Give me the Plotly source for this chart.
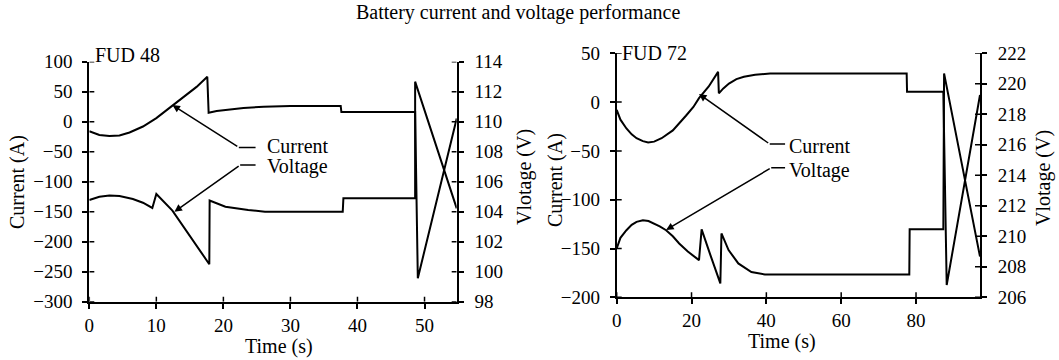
import plotly.graph_objects as go

W, H = 1059, 360
ML, MR, MT, MB = 89, 79, 50, 55
PW = W - ML - MR
PH = H - MT - MB

FONT = "Liberation Serif, Times New Roman, serif"
FS = 20

# ---------------- data: FUD 48 ----------------
t48_cur = [0, 1.5, 3, 4.5, 6, 8, 10, 12.4, 14, 16, 17.6, 17.8, 19, 21, 23, 26, 30, 37.5, 37.6, 48.6, 49.0, 54.8]
i48 = [-16, -22, -24, -23, -18, -8, 6, 27, 41, 58, 75, 15, 18, 21, 23, 25, 26, 26, 16, 16, -261, 5.5]
t48_volt = [0, 1.5, 3, 4.5, 6.5, 8, 9.4, 10, 12.4, 14.4, 16.4, 17.9, 17.95, 19, 20.3, 23.7, 26.2, 37.8, 37.9, 48.6, 48.6, 54.8]
v48 = [104.78, 105.0, 105.08, 105.04, 104.85, 104.6, 104.25, 105.18, 104.07, 102.8, 101.45, 100.5,
       104.75, 104.55, 104.33, 104.12, 104.0, 104.0, 104.9, 104.9, 112.67, 104.22]

# ---------------- data: FUD 72 ----------------
t72_cur = [0, 1, 2.6, 4, 5.3, 7, 8.4, 10, 12, 15, 18.5, 20.5, 22, 24.6, 27.1, 27.3, 28.5, 30, 32, 34, 37, 41,
           77.5, 77.6, 87.3, 88.2, 97.1]
i72 = [-8, -18, -27, -33, -37, -40, -41.3, -40.5, -37, -29, -14, -5, 4, 16, 31, 9, 14, 19, 23.5, 26, 28, 29.2,
       29.4, 10.6, 10.6, -187.5, 7.3]
t72_volt = [0, 1, 2.6, 4, 5.3, 7, 8.5, 9.7, 11.5, 13.2, 15, 16.7, 19, 22, 22.7, 25, 27.7, 28, 29.9, 32.5, 36,
            39.6, 44.8, 78.2, 78.3, 87.3, 87.5, 97.1]
v72 = [209.2, 209.9, 210.4, 210.75, 210.95, 211.05, 211.0, 210.87, 210.65, 210.4, 210.0, 209.53, 209.0, 208.44,
       210.45, 208.8, 206.91, 210.19, 209.1, 208.22, 207.66, 207.5, 207.5, 207.5, 210.47, 210.47, 220.68, 208.67]

# axis ranges / ticks
x48_range = [0, 54.8]
x48_ticks = [0, 10, 20, 30, 40, 50]
i48_range = [-300, 100]
i48_ticks = [100, 50, 0, -50, -100, -150, -200, -250, -300]
v48_range = [98, 114]
v48_ticks = [98, 100, 102, 104, 106, 108, 110, 112, 114]

x72_range = [0, 97.1]
x72_ticks = [0, 20, 40, 60, 80]
i72_range = [-200, 50]
i72_ticks = [50, 0, -50, -100, -150, -200]
v72_range = [206, 222]
v72_ticks = [206, 208, 210, 212, 214, 216, 218, 220, 222]

# leader annotations: (label, text pos, line end, corner, tip)
leaders48 = [
    ("Current", (26.2, -41), (24.8, -42.8), (22.3, -42.8), (12.4, 27.8)),
    ("Voltage", (26.2, -74), (24.8, -72.2), (22.5, -72.2), (12.7, -150)),
]
leaders72 = [
    ("Current", (45.4, -45), (45.0, -43), (40.9, -43), (22.0, 8.3)),
    ("Voltage", (45.4, -70), (45.0, -67.3), (41.3, -67.3), (13.2, -131)),
]

LINE = dict(color="black", width=2)

fig = go.Figure()
fig.add_trace(go.Scatter(x=t48_cur, y=i48, mode="lines", line=LINE, xaxis="x", yaxis="y", showlegend=False))
fig.add_trace(go.Scatter(x=t48_volt, y=v48, mode="lines", line=LINE, xaxis="x", yaxis="y2", showlegend=False))
fig.add_trace(go.Scatter(x=t72_cur, y=i72, mode="lines", line=LINE, xaxis="x2", yaxis="y3", showlegend=False))
fig.add_trace(go.Scatter(x=t72_volt, y=v72, mode="lines", line=LINE, xaxis="x2", yaxis="y4", showlegend=False))

annotations = []
for leaders, xr, yr in [(leaders48, "x", "y"), (leaders72, "x2", "y3")]:
    for label, tpos, end, corner, tip in leaders:
        fig.add_trace(go.Scatter(x=[end[0], corner[0]], y=[end[1], corner[1]], mode="lines",
                                 line=dict(color="black", width=1.5), xaxis=xr, yaxis=yr,
                                 showlegend=False, hoverinfo="skip"))
        annotations.append(dict(x=tip[0], y=tip[1], ax=corner[0], ay=corner[1], xref=xr, yref=yr,
                                axref=xr, ayref=yr, showarrow=True, arrowhead=2, arrowsize=1,
                                arrowwidth=1.5, arrowcolor="black", text=""))
        annotations.append(dict(x=tpos[0], y=tpos[1], xref=xr, yref=yr, text=label, showarrow=False,
                                xanchor="left", yanchor="middle", font=dict(family=FONT, size=FS, color="black")))

def px_to_paper(px, py):
    return (px - ML) / PW, (H - MB - py) / PH

def text_ann(text, px, py, angle=0, size=FS, xanchor="center"):
    x, y = px_to_paper(px, py)
    return dict(x=x, y=y, xref="paper", yref="paper", text=text, showarrow=False, textangle=angle,
                xanchor=xanchor, yanchor="middle", font=dict(family=FONT, size=size, color="black"))

annotations += [
    text_ann("Battery current and voltage performance", 518, 12),
    text_ann("Current (A)", 18, 182, -90),
    text_ann("Vlotage (V)", 524, 177, -90),
    text_ann("Time (s)", 279, 346),
    text_ann("Current (A)", 555, 180, -90),
    text_ann("Vlotage (V)", 1043, 178, -90),
    text_ann("Time (s)", 782, 341),
    text_ann("FUD 48", 93, 55, xanchor="left"),
    text_ann("FUD 72", 620, 53, xanchor="left"),
]

# inner halves of the crossing tick marks (positioned through the axes' own scales, pixel length)
TICK_IN = 5
shapes = []
TICKLINE = dict(color="black", width=1.5)
for xr, yr, xticks, ybase in [("x", "y", x48_ticks, i48_range[0]), ("x2", "y3", x72_ticks, i72_range[0])]:
    for v in xticks:
        shapes.append(dict(type="line", xref=xr, yref=yr, x0=v, x1=v, ysizemode="pixel", yanchor=ybase,
                           y0=0, y1=TICK_IN, line=TICKLINE))
for xr, yr, yticks, xanchor, sign in [("x", "y", i48_ticks, x48_range[0], 1),
                                      ("x", "y2", v48_ticks, x48_range[1], -1),
                                      ("x2", "y3", i72_ticks, x72_range[0], 1),
                                      ("x2", "y4", v72_ticks, x72_range[1], -1)]:
    for v in yticks:
        shapes.append(dict(type="line", xref=xr, yref=yr, y0=v, y1=v, xsizemode="pixel", xanchor=xanchor,
                           x0=0, x1=sign * TICK_IN, line=TICKLINE))

dx48 = [(89.3 - ML) / PW, (456.7 - ML) / PW]
dx72 = [(616.7 - ML) / PW, (980 - ML) / PW]
dy48 = [(H - MB - 301.7) / PH, (H - MB - 61.7) / PH]
dy72 = [(H - MB - 297.3) / PH, (H - MB - 53.3) / PH]

TF = dict(family=FONT, size=19, color="black")
common = dict(showgrid=False, zeroline=False, showline=True, linecolor="black", linewidth=2,
              tickcolor="black", tickwidth=1.5, ticklen=5, tickfont=TF, automargin=False, ticks="outside")

def tickaxis(**kw):
    d = dict(common)
    d.update(kw)
    return d

fig.update_layout(
    width=W, height=H, margin=dict(l=ML, r=MR, t=MT, b=MB),
    paper_bgcolor="white", plot_bgcolor="rgba(0,0,0,0)", template="none",
    xaxis=tickaxis(domain=dx48, range=x48_range, tickvals=x48_ticks, anchor="y"),
    yaxis=tickaxis(domain=dy48, range=i48_range, tickvals=i48_ticks, anchor="x", ticklabelstandoff=6),
    yaxis2=tickaxis(range=v48_range, tickvals=v48_ticks, anchor="x", overlaying="y", side="right",
                    ticklabelstandoff=7),
    xaxis2=tickaxis(domain=dx72, range=x72_range, tickvals=x72_ticks, anchor="y3"),
    yaxis3=tickaxis(domain=dy72, range=i72_range, tickvals=i72_ticks, anchor="x2", ticklabelstandoff=6),
    yaxis4=tickaxis(range=v72_range, tickvals=v72_ticks, anchor="x2", overlaying="y3", side="right",
                    ticklabelstandoff=7),
    annotations=annotations,
    shapes=shapes,
)

fig.write_html("out.html")
